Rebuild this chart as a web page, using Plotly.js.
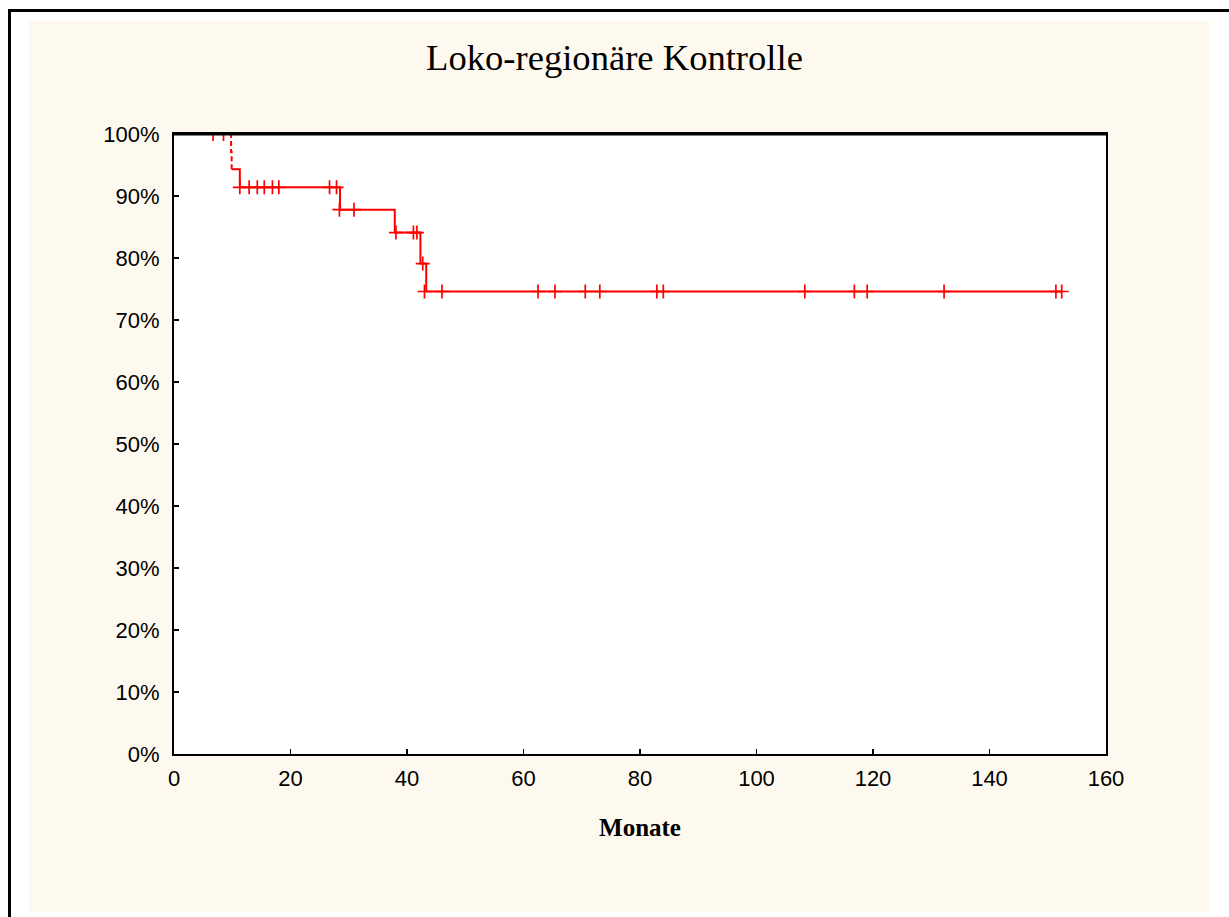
<!DOCTYPE html>
<html>
<head>
<meta charset="utf-8">
<script src="https://cdn.plot.ly/plotly-3.0.1.min.js"></script>
<style>
html,body{margin:0;padding:0;background:#ffffff;}
#chart{width:1229px;height:917px;}
</style>
</head>
<body>
<div id="chart"></div>
<script>
// Kaplan-Meier step curve (months, survival %)
var stepMonths = [0, 9.8, 9.9, 11.3, 28.5, 37.9, 42.3, 43.3, 152.4];
var stepSurvival = [100, 97.1, 94.3, 91.4, 87.8, 84.1, 79.1, 74.6, 74.6];

// Censored observations (months, survival %)
var censorMonths = [6.7, 8.5,
  11.3, 12.9, 14.3, 15.5, 16.9, 18.0, 26.7, 27.9,
  28.4, 30.9,
  38.1, 41.1, 41.7,
  42.7,
  43.0, 46.0, 62.5, 65.4, 70.6, 73.1, 82.9, 84.0, 108.3, 116.8, 119.0, 132.2, 151.4, 152.4];
var censorSurvival = [100, 100,
  91.4, 91.4, 91.4, 91.4, 91.4, 91.4, 91.4, 91.4,
  87.8, 87.8,
  84.1, 84.1, 84.1,
  79.1,
  74.6, 74.6, 74.6, 74.6, 74.6, 74.6, 74.6, 74.6, 74.6, 74.6, 74.6, 74.6, 74.6, 74.6];

var xTicks = [0, 20, 40, 60, 80, 100, 120, 140, 160];
var yTicks = [0, 10, 20, 30, 40, 50, 60, 70, 80, 90, 100];

var titleText = 'Loko-regionäre Kontrolle';
var xTitleText = 'Monate';

var W = 1229, H = 917;
var L = 174, R = 1106, T = 134, B = 754;
function px(x){ return (x - L) / (R - L); }
function py(y){ return (B - y) / (B - T); }

var traces = [
  {
    x: stepMonths.slice(0, 3), y: stepSurvival.slice(0, 3),
    type: 'scatter', mode: 'lines',
    line: {shape: 'hv', color: '#ff0000', width: 2, dash: '5px,3px'},
    hoverinfo: 'skip', showlegend: false
  },
  {
    x: stepMonths.slice(2), y: stepSurvival.slice(2),
    type: 'scatter', mode: 'lines',
    line: {shape: 'hv', color: '#ff0000', width: 2},
    hoverinfo: 'skip', showlegend: false
  },
  {
    x: censorMonths, y: censorSurvival,
    type: 'scatter', mode: 'markers',
    marker: {symbol: 'cross-thin', size: 10, color: '#ff0000',
             line: {color: '#ff0000', width: 1.7}},
    hoverinfo: 'skip', showlegend: false
  }
];

var layout = {
  width: W, height: H,
  margin: {l: L, r: W - R, t: T, b: H - B, pad: 0},
  paper_bgcolor: '#ffffff',
  plot_bgcolor: '#ffffff',
  showlegend: false,
  title: {
    text: titleText,
    font: {family: '"Liberation Serif", "Times New Roman", serif', size: 36.6, color: '#000000'},
    xref: 'container', x: 0.5, xanchor: 'center',
    yref: 'container', y: 1 - 57 / H, yanchor: 'middle'
  },
  xaxis: {
    range: [0, 160],
    tickvals: xTicks,
    ticktext: xTicks.map(String),
    ticks: 'inside', ticklen: 5, tickwidth: 1.5, tickcolor: '#000000',
    ticklabelstandoff: 4,
    showline: true, linecolor: '#000000', linewidth: 2, mirror: true,
    showgrid: false, zeroline: false,
    tickfont: {family: '"Liberation Sans", Arial, sans-serif', size: 22, color: '#000000'},
    title: {text: xTitleText, standoff: 28,
            font: {family: '"Liberation Serif", "Times New Roman", serif', size: 25, color: '#000000', weight: 'bold'}}
  },
  yaxis: {
    range: [0, 100],
    tickvals: yTicks,
    ticktext: yTicks.map(function(v){ return v + '%'; }),
    ticks: 'inside', ticklen: 5, tickwidth: 1.5, tickcolor: '#000000',
    ticklabelstandoff: 8,
    showline: true, linecolor: '#000000', linewidth: 2, mirror: true,
    showgrid: false, zeroline: false,
    tickfont: {family: '"Liberation Sans", Arial, sans-serif', size: 22, color: '#000000'}
  },
  shapes: [
    {type: 'rect', xref: 'paper', yref: 'paper', layer: 'below',
     x0: px(29), x1: px(1209), y0: py(912), y1: py(21),
     fillcolor: '#fef9ee', line: {width: 0}},
    {type: 'rect', xref: 'paper', yref: 'paper', layer: 'below',
     x0: 0, x1: 1, y0: 0, y1: 1,
     fillcolor: '#ffffff', line: {width: 0}},
    {type: 'line', xref: 'paper', yref: 'paper', layer: 'below',
     x0: px(9.5), x1: px(9.5), y0: py(9), y1: py(920),
     line: {color: '#000000', width: 3}},
    {type: 'line', xref: 'paper', yref: 'paper', layer: 'below',
     x0: px(8), x1: px(1235), y0: py(10.5), y1: py(10.5),
     line: {color: '#000000', width: 3}},
    {type: 'line', xref: 'paper', yref: 'paper', layer: 'above',
     x0: px(172), x1: px(1108), y0: py(134.5), y1: py(134.5),
     line: {color: '#000000', width: 2.2}}
  ]
};

Plotly.newPlot('chart', traces, layout, {displayModeBar: false, staticPlot: true});
</script>
</body>
</html>
